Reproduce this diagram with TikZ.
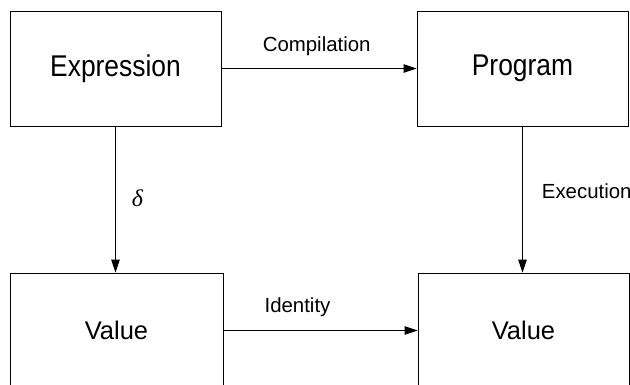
\documentclass[tikz,border=0pt]{standalone}
\usepackage{fontspec}
\setmainfont{Liberation Sans}
\newfontfamily\boxfont[FakeStretch=0.88]{Liberation Sans}
\newfontfamily\greekfont{Liberation Serif}
\usetikzlibrary{arrows.meta}
\tikzset{
  box/.style={draw=black, line width=0.8pt, rectangle, inner sep=0pt,
    minimum width=211pt, minimum height=115pt},
  bigtext/.style={font=\boxfont\fontsize{30}{34}\selectfont},
  valtext/.style={font=\fontsize{25.5}{30}\selectfont},
  lbl/.style={inner sep=0pt, font=\fontsize{20.4}{24}\selectfont},
  flow/.style={line width=0.8pt, -{Triangle[length=13pt,width=8.5pt]}}
}
\begin{document}
\begin{tikzpicture}[x=1pt, y=-1pt]
  \useasboundingbox (0,0) rectangle (630,384);
  \clip (0,0) rectangle (630,384);
  % the four boxes
  \node[box, bigtext] (expr) at (115.5,68.5) {Expression};
  \node[box, bigtext] (prog) at (522.5,68.5) {Program};
  \node[box, valtext, minimum width=213pt] (vall) at (116.5,330.5) {Value};
  \node[box, valtext] (valr) at (523.5,330.5) {Value};
  % arrows between them
  \draw[flow] (expr.east) -- (prog.west);
  \draw[flow] (expr.south) -- (expr.south |- vall.north);
  \draw[flow] (prog.south) -- (prog.south |- valr.north);
  \draw[flow] (vall.east) -- (valr.west);
  % arrow labels
  \node[lbl, anchor=base] (comp) at (316.7,51) {Compilation};
  \node[lbl, anchor=base west] (exec) at (541.7,198) {Execution};
  \node[lbl, anchor=base] (iden) at (297.5,312) {Identity};
  \node[inner sep=0pt, anchor=base, font=\greekfont\itshape\fontsize{24}{28}\selectfont] (delta) at (137.5,206) {δ};
\end{tikzpicture}
\end{document}
